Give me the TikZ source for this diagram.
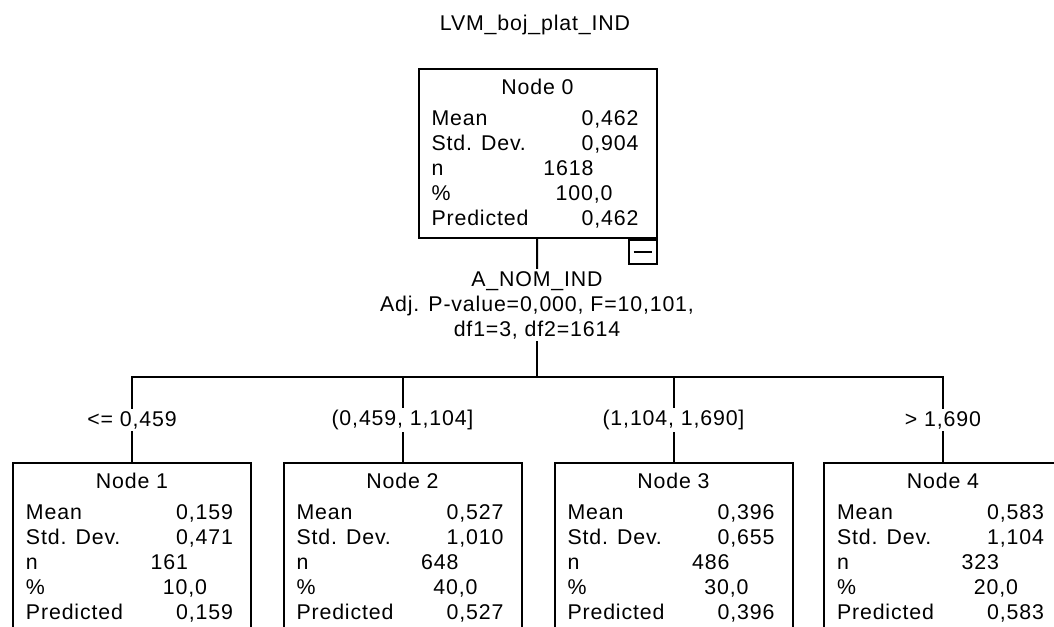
\documentclass[tikz,border=0pt]{standalone}
\usepackage{fontspec}
\setmainfont{Liberation Sans}[LetterSpace=4]
\usetikzlibrary{positioning}
\newlength{\upx}
\setlength{\upx}{0.75pt}
% one line of a node: label left, value right with a right offset
\newcommand{\statrow}[3]{\makebox[207\upx][l]{#1\hfill #2\hspace*{#3\upx}}}
\newcommand{\statrows}[6]{\makebox[212\upx]{#1}\\[6\upx]
  \statrow{Mean}{#2}{0}\\
  \statrow{Std. Dev.}{#3}{0}\\
  \statrow{n}{#4}{45}\\
  \statrow{\%}{#5}{26}\\
  \statrow{Predicted}{#6}{0}}
\tikzset{
  statbox/.style={draw, line width=1.5pt, anchor=north, align=left,
                  inner xsep=13\upx, inner ysep=0pt,
                  minimum width=238\upx, minimum height=169\upx},
  foldbox/.style={draw, line width=1.5pt, anchor=north east, inner sep=0pt,
                  minimum width=28\upx, minimum height=24\upx},
  splitlbl/.style={align=center, inner sep=2\upx},
  edgelbl/.style={inner sep=2\upx},
  link/.style={line width=1.5pt},
}

\begin{document}
\begin{tikzpicture}[x=\upx, y=-\upx, font=\fontsize{16}{18.75}\selectfont]
  \path[use as bounding box, fill=white] (0,0) rectangle (1054,627);
  \clip (0,0) rectangle (1054,627);
  % title and root
  \node (title) at (535,25) {LVM\_boj\_plat\_IND};
  \node[statbox] (n0) at (537.5,68)
    {\statrows{Node 0}{0,462}{0,904}{1618}{100,0}{0,462}};
  \node[foldbox] (n0fold) at (n0.south east) {\rule{18\upx}{2\upx}};
  \node[splitlbl] (split) at (537,305)
    {A\_NOM\_IND\\Adj. P-value=0,000, F=10,101,\\df1=3, df2=1614};
  \coordinate (bus) at (537,377);
  % children
  \node[statbox] (n1) at (132,462)
    {\statrows{Node 1}{0,159}{0,471}{161}{10,0}{0,159}};
  \node[statbox] (n2) at (402.5,462)
    {\statrows{Node 2}{0,527}{1,010}{648}{40,0}{0,527}};
  \node[statbox] (n3) at (673.5,462)
    {\statrows{Node 3}{0,396}{0,655}{486}{30,0}{0,396}};
  \node[statbox] (n4) at (943,462)
    {\statrows{Node 4}{0,583}{1,104}{323}{20,0}{0,583}};
  % branch labels
  \node[edgelbl] (l1) at (132,420) {<= 0,459};
  \node[edgelbl] (l2) at (402.5,420) {(0,459, 1,104]};
  \node[edgelbl] (l3) at (673.5,420) {(1,104, 1,690]};
  \node[edgelbl] (l4) at (943,420) {> 1,690};
  % connectors
  \draw[link] (n0) -- (split);
  \draw[link] (split) -- (bus);
  \draw[link] (l1) -- (l1 |- bus) -- (l4 |- bus) -- (l4);
  \draw[link] (l2 |- bus) -- (l2);
  \draw[link] (l3 |- bus) -- (l3);
  \foreach \i in {1,...,4} {
    \draw[link] (l\i) -- (n\i);
  }
\end{tikzpicture}
\end{document}
